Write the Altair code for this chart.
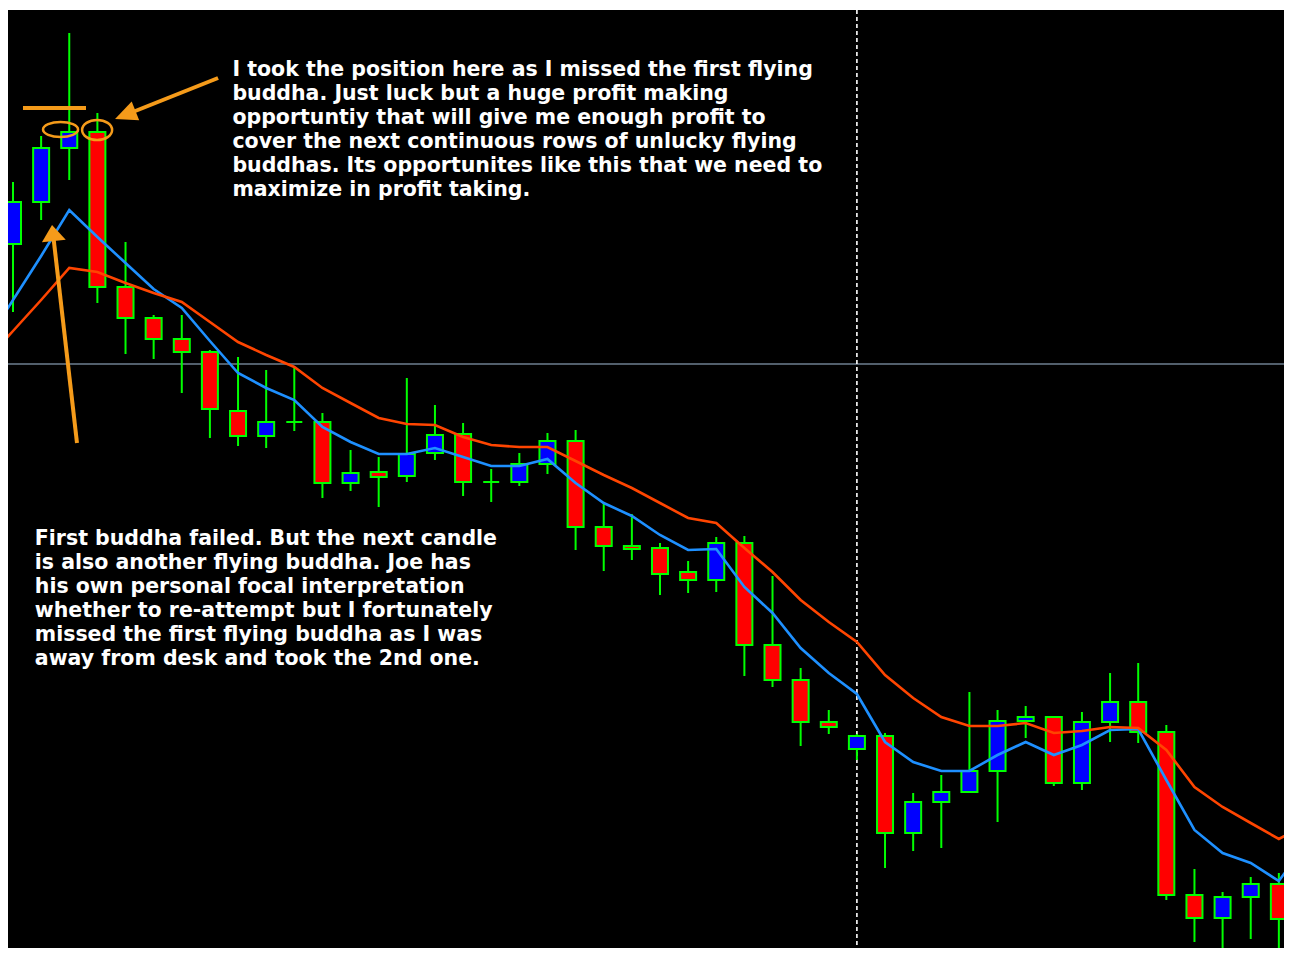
import altair as alt
import pandas as pd

# ---------------- data (prices) ----------------
bars = list(range(46))
opens = [1.3712, 1.3754, 1.3808, 1.3824, 1.3669, 1.3638, 1.3617, 1.3604, 1.3545, 1.3520,
         1.3534, 1.3534, 1.3473, 1.3484, 1.3480, 1.3503, 1.3522, 1.3474, 1.3474, 1.3492,
         1.3515, 1.3429, 1.3410, 1.3408, 1.3384, 1.3376, 1.3413, 1.3311, 1.3276, 1.3234,
         1.3207, 1.3220, 1.3123, 1.3154, 1.3164, 1.3185, 1.3235, 1.3239, 1.3173, 1.3234,
         1.3254, 1.3224, 1.3061, 1.3038, 1.3059, 1.3072]
highs = [1.3774, 1.3820, 1.3923, 1.3843, 1.3714, 1.3641, 1.3641, 1.3606, 1.3599, 1.3586,
         1.3589, 1.3543, 1.3506, 1.3499, 1.3578, 1.3551, 1.3533, 1.3487, 1.3503, 1.3523,
         1.3526, 1.3453, 1.3442, 1.3413, 1.3395, 1.3419, 1.3420, 1.3380, 1.3288, 1.3246,
         1.3222, 1.3223, 1.3163, 1.3181, 1.3264, 1.3246, 1.3250, 1.3239, 1.3244, 1.3283,
         1.3293, 1.3231, 1.3087, 1.3064, 1.3079, 1.3083]
lows = [1.3644, 1.3736, 1.3776, 1.3653, 1.3602, 1.3597, 1.3563, 1.3518, 1.3510, 1.3508,
        1.3525, 1.3458, 1.3465, 1.3449, 1.3474, 1.3496, 1.3460, 1.3454, 1.3470, 1.3482,
        1.3406, 1.3385, 1.3396, 1.3361, 1.3363, 1.3364, 1.3280, 1.3269, 1.3210, 1.3222,
        1.3196, 1.3088, 1.3105, 1.3108, 1.3164, 1.3134, 1.3218, 1.3170, 1.3166, 1.3214,
        1.3213, 1.3056, 1.3014, 1.2990, 1.3017, 1.2990]
closes = [1.3754, 1.3808, 1.3824, 1.3669, 1.3638, 1.3617, 1.3604, 1.3547, 1.3520, 1.3534,
          1.3534, 1.3473, 1.3483, 1.3479, 1.3502, 1.3521, 1.3474, 1.3474, 1.3492, 1.3515,
          1.3429, 1.3410, 1.3407, 1.3382, 1.3376, 1.3413, 1.3311, 1.3276, 1.3234, 1.3229,
          1.3220, 1.3123, 1.3154, 1.3164, 1.3185, 1.3235, 1.3239, 1.3173, 1.3234, 1.3254,
          1.3224, 1.3061, 1.3038, 1.3059, 1.3072, 1.3037]

ma_bars = list(range(-1, 47))
fast_ma = [1.3612, 1.3656, 1.3700, 1.3746, 1.3719, 1.3693, 1.3667, 1.3648, 1.3615, 1.3583,
           1.3568, 1.3556, 1.3529, 1.3514, 1.3502, 1.3502, 1.3508, 1.3499, 1.3490, 1.3490,
           1.3497, 1.3473, 1.3453, 1.3440, 1.3421, 1.3406, 1.3407, 1.3369, 1.3343, 1.3308,
           1.3283, 1.3262, 1.3214, 1.3194, 1.3185, 1.3185, 1.3201, 1.3214, 1.3201, 1.3211,
           1.3226, 1.3227, 1.3176, 1.3126, 1.3103, 1.3093, 1.3075, 1.3114]
slow_ma = [1.3594, 1.3625, 1.3656, 1.3688, 1.3684, 1.3673, 1.3663, 1.3654, 1.3634, 1.3614,
           1.3601, 1.3589, 1.3568, 1.3553, 1.3538, 1.3532, 1.3531, 1.3519, 1.3511, 1.3509,
           1.3509, 1.3495, 1.3481, 1.3468, 1.3453, 1.3438, 1.3433, 1.3408, 1.3384, 1.3356,
           1.3334, 1.3314, 1.3281, 1.3258, 1.3239, 1.3230, 1.3230, 1.3233, 1.3223, 1.3225,
           1.3229, 1.3228, 1.3206, 1.3169, 1.3149, 1.3133, 1.3117, 1.3132]

price_line = 1.3592     # horizontal grey price line
marker_bar = 30         # vertical dotted separator

text_top = ("I took the position here as I missed the first flying\n"
            "buddha. Just luck but a huge profit making\n"
            "opportuntiy that will give me enough profit to\n"
            "cover the next continuous rows of unlucky flying\n"
            "buddhas. Its opportunites like this that we need to\n"
            "maximize in profit taking.")
text_bottom = ("First buddha failed. But the next candle\n"
               "is also another flying buddha. Joe has\n"
               "his own personal focal interpretation\n"
               "whether to re-attempt but I fortunately\n"
               "missed the first flying buddha as I was\n"
               "away from desk and took the 2nd one.")

# annotation anchors, in (bar, price)
hline_bar = [0.355, 2.595]
hline_price = 1.3848
ellipse_bar = [1.69, 2.99]
ellipse_price = [1.38265, 1.3826]
arrow1_tail = (7.29, 1.3878)
arrow1_head = (3.99, 1.3841)
arrow2_tail = (2.275, 1.3513)
arrow2_head = (1.42, 1.3723)
text_top_pos = (7.80, 1.38958)
text_bottom_pos = (0.775, 1.34274)

# ---------------- chart ----------------
ORANGE = "#F59B1A"
LIME = "#00FF00"

candles = pd.DataFrame({"bar": bars, "open": opens, "high": highs, "low": lows, "close": closes})
candles["fill"] = ["#0000FF" if c > o else "#FF0000" for o, c in zip(opens, closes)]

ma = pd.DataFrame({
    "bar": ma_bars * 2,
    "value": fast_ma + slow_ma,
    "series": ["fast"] * len(ma_bars) + ["slow"] * len(ma_bars),
})

xs = alt.Scale(domain=[-0.1777, 45.183], nice=False, zero=False, padding=0)
ys = alt.Scale(domain=[1.3008, 1.3946], nice=False, zero=False, padding=0)
X = lambda f: alt.X(f, type="quantitative", scale=xs, axis=None)
Y = lambda f: alt.Y(f, type="quantitative", scale=ys, axis=None)

grey = alt.Chart(pd.DataFrame({"p": [price_line]})).mark_rule(
    color="#6E7F90", strokeWidth=1.5).encode(y=Y("p"))

vline = alt.Chart(pd.DataFrame({"b": [marker_bar]})).mark_rule(
    color="white", strokeWidth=1.6, strokeDash=[4, 3]).encode(x=X("b"))

wicks = alt.Chart(candles).mark_rule(color=LIME, strokeWidth=2, clip=True).encode(
    x=X("bar"), y=Y("low"), y2="high")

bodies = alt.Chart(candles).mark_bar(size=16, stroke=LIME, strokeWidth=2, clip=True).encode(
    x=X("bar"), y=Y("open"), y2="close", fill=alt.Fill("fill:N", scale=None))

lines = alt.Chart(ma).mark_line(strokeWidth=2.6, clip=True).encode(
    x=X("bar"), y=Y("value"),
    color=alt.Color("series:N", scale=alt.Scale(domain=["fast", "slow"], range=["#1E90FF", "#FF4500"]),
                    legend=None))

hl = alt.Chart(pd.DataFrame({"b1": [hline_bar[0]], "b2": [hline_bar[1]], "p": [hline_price]})).mark_rule(
    color=ORANGE, strokeWidth=4).encode(x=X("b1"), x2="b2", y=Y("p"))

ell1 = alt.Chart(pd.DataFrame({"b": [ellipse_bar[0]], "p": [ellipse_price[0]]})).mark_point(
    shape="M -1 0 A 1 0.43 0 1 1 1 0 A 1 0.43 0 1 1 -1 0 Z", size=1225, filled=False,
    stroke=ORANGE, strokeWidth=2.5, opacity=1).encode(x=X("b"), y=Y("p"))
ell2 = alt.Chart(pd.DataFrame({"b": [ellipse_bar[1]], "p": [ellipse_price[1]]})).mark_point(
    shape="M -1 0 A 1 0.67 0 1 1 1 0 A 1 0.67 0 1 1 -1 0 Z", size=900, filled=False,
    stroke=ORANGE, strokeWidth=2.5, opacity=1).encode(x=X("b"), y=Y("p"))

shafts = alt.Chart(pd.DataFrame({
    "b1": [arrow1_tail[0], arrow2_tail[0]], "p1": [arrow1_tail[1], arrow2_tail[1]],
    "b2": [arrow1_head[0], arrow2_head[0]], "p2": [arrow1_head[1], arrow2_head[1]],
})).mark_rule(color=ORANGE, strokeWidth=4).encode(x=X("b1"), y=Y("p1"), x2="b2", y2="p2")

head1 = alt.Chart(pd.DataFrame({"b": [arrow1_head[0]], "p": [arrow1_head[1]]})).mark_point(
    shape="M 0 -1.1 L -1 1.1 L 1 1.1 Z", size=400, filled=True, color=ORANGE, opacity=1,
    angle=248).encode(x=X("b"), y=Y("p"))
head2 = alt.Chart(pd.DataFrame({"b": [arrow2_head[0]], "p": [arrow2_head[1]]})).mark_point(
    shape="M 0 -0.67 L -1 0.67 L 1 0.67 Z", size=576, filled=True, color=ORANGE, opacity=1,
    angle=353.5).encode(x=X("b"), y=Y("p"))

txt = alt.Chart(pd.DataFrame({
    "b": [text_top_pos[0], text_bottom_pos[0]],
    "p": [text_top_pos[1], text_bottom_pos[1]],
    "t": [text_top, text_bottom],
})).mark_text(align="left", baseline="top", lineBreak="\n", lineHeight=24,
              font="DejaVu Sans", fontWeight="bold", fontSize=20.5, color="white").encode(
    x=X("b"), y=Y("p"), text="t:N")

chart = alt.layer(grey, vline, wicks, bodies, lines, hl, ell1, ell2, shafts, head1, head2, txt).properties(
    width=1276, height=938,
    autosize=alt.AutoSizeParams(type="none"),
    padding={"left": 0, "top": 2, "right": 0, "bottom": 0},
    background="white",
).configure_view(fill="black", strokeWidth=0)

chart.save("out.html", embed_options={"renderer": "svg", "actions": False})
